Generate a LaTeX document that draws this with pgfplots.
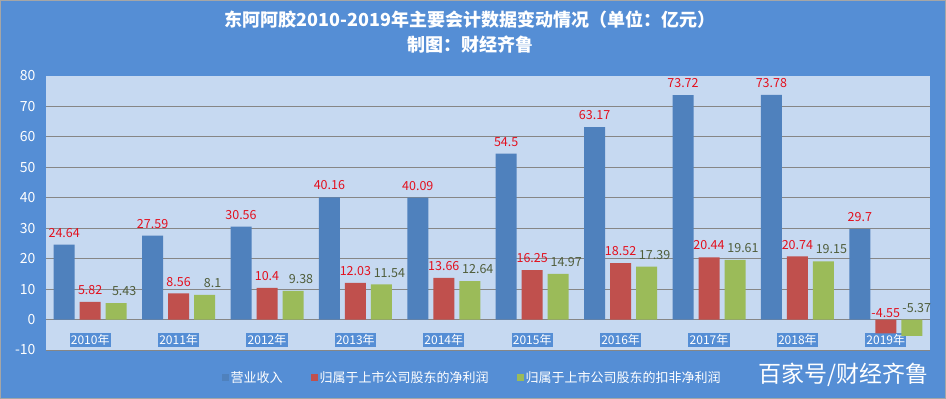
\documentclass[border=0pt]{standalone}
\usepackage{fontspec}
\setmainfont{Noto Sans CJK SC}
\usepackage{pgfplots}
\pgfplotsset{compat=1.18}
\definecolor{bg}{HTML}{558ED5}
\definecolor{plotbg}{HTML}{C6D9F1}
\definecolor{sblue}{HTML}{4F81BD}
\definecolor{sred}{HTML}{C0504D}
\definecolor{sgreen}{HTML}{9BBB59}
\definecolor{lred}{HTML}{E3101E}
\definecolor{lgreen}{HTML}{4F5D3A}
\definecolor{gridc}{HTML}{868686}
\begin{document}
\begin{tikzpicture}
\fill[bg] (0pt,0pt) rectangle (946pt,399pt);
\draw[gray!70,line width=1pt] (0.5pt,0.5pt) rectangle (945.5pt,398.5pt);
\begin{axis}[at={(46pt,49pt)}, anchor=south west, scale only axis,
  width=884pt, height=274pt,
  xmin=-0.5, xmax=9.5, ymin=-10, ymax=80,
  axis background/.style={fill=plotbg},
  axis line style={draw=none},
  ybar, bar width=21pt,
  xtick={0,...,9},
  xticklabels={2010年,2011年,2012年,2013年,2014年,2015年,2016年,2017年,2018年,2019年},
  ytick={-10,0,...,70}, extra y ticks={80}, extra y tick style={grid=none},
  ymajorgrids, grid style={gridc, line width=0.8pt},
  major tick length=0pt,
  xticklabel style={anchor=center, yshift=10pt, fill=bg, inner sep=1.2pt, text=white, font=\fontsize{12}{14}\selectfont},
  yticklabel style={text=white, font=\fontsize{14}{16}\selectfont, xshift=-7pt},
  /pgf/number format/assume math mode=true,
  legend image code/.code={\fill[#1] (-3pt,-3.5pt) rectangle (4pt,3.5pt);},
  legend style={at={(0.482,-0.1)}, anchor=center, draw=none, fill=none, text=white,
    font=\fontsize{13}{15}\selectfont, legend columns=3,
    /tikz/every even column/.append style={column sep=26pt}},
  point meta=explicit symbolic,
  every node near coord/.append style={inner sep=1pt,
    font=\fontsize{12.5}{14}\selectfont, yshift=6pt},
]
\addplot[fill=sblue, draw=none, bar shift=-26pt, nodes near coords, every node near coord/.append style={text=lred}]
coordinates {(0,24.64)[24.64] (1,27.59)[27.59] (2,30.56)[30.56] (3,40.16)[40.16] (4,40.09)[40.09]
(5,54.5)[54.5] (6,63.17)[63.17] (7,73.72)[73.72] (8,73.78)[73.78] (9,29.7)[29.7]};
\addplot[fill=sred, draw=none, bar shift=0pt, nodes near coords, every node near coord/.append style={text=lred}]
coordinates {(0,5.82)[5.82] (1,8.56)[8.56] (2,10.4)[10.4] (3,12.03)[12.03] (4,13.66)[13.66]
(5,16.25)[16.25] (6,18.52)[18.52] (7,20.44)[20.44] (8,20.74)[20.74] (9,-4.55)[]};
\addplot[fill=sgreen, draw=none, bar shift=26pt, nodes near coords, every node near coord/.append style={text=lgreen, xshift=8pt}]
coordinates {(0,5.43)[5.43] (1,8.1)[8.1] (2,9.38)[9.38] (3,11.54)[11.54] (4,12.64)[12.64]
(5,14.97)[14.97] (6,17.39)[17.39] (7,19.61)[19.61] (8,19.15)[19.15] (9,-5.37)[]};
\legend{营业收入,归属于上市公司股东的净利润,归属于上市公司股东的扣非净利润}
% labels of the two negative bars, set just above the zero line as in the reference
\addplot[forget plot, draw=none, fill=none, bar shift=0pt, nodes near coords,
  every node near coord/.append style={text=lred, yshift=-5pt}]
coordinates {(9,0)[-4.55]};
\addplot[forget plot, draw=none, fill=none, bar shift=26pt, nodes near coords,
  every node near coord/.append style={text=lgreen, xshift=5pt, yshift=0pt}]
coordinates {(9,0)[-5.37]};
\end{axis}
\node[text=white,font=\bfseries\fontsize{18}{21}\selectfont] at (470pt,379pt) {东阿阿胶2010-2019年主要会计数据变动情况（单位：亿元）};
\node[text=white,font=\bfseries\fontsize{18}{21}\selectfont] at (470pt,354pt) {制图：财经齐鲁};
\node[text=white,font=\fontsize{23}{26}\selectfont,anchor=east] at (932pt,24pt) {百家号/财经齐鲁};
\end{tikzpicture}
\end{document}
